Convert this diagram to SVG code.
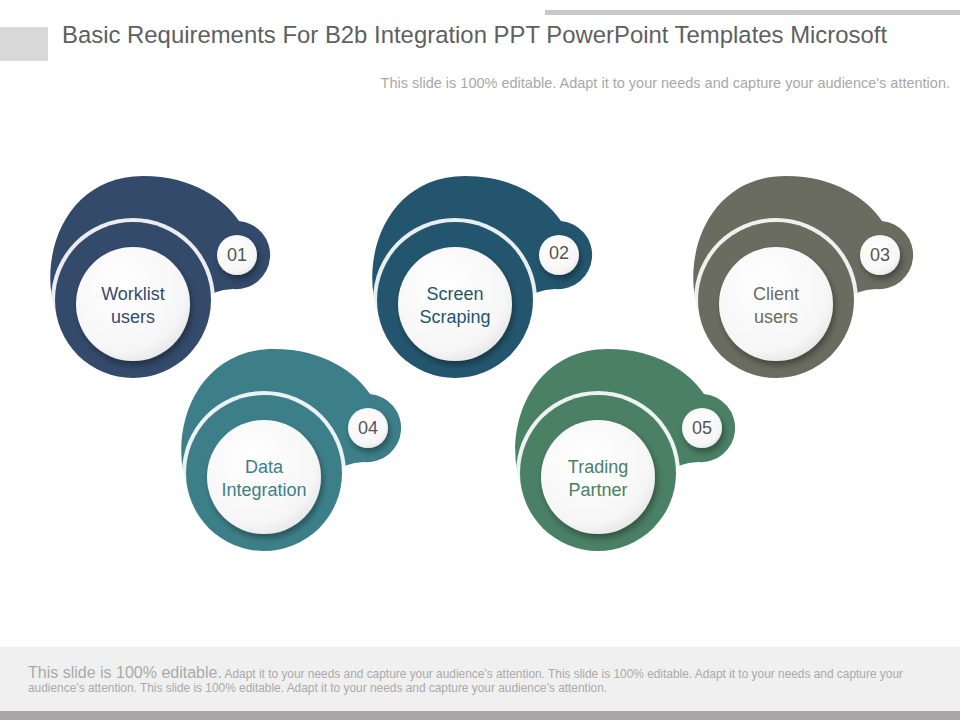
<svg xmlns="http://www.w3.org/2000/svg" width="960" height="720" viewBox="0 0 960 720">
<defs>
<filter id="sh" x="-30%" y="-30%" width="160%" height="160%"><feDropShadow dx="2" dy="4" stdDeviation="3" flood-color="#000" flood-opacity="0.35"/></filter>
<radialGradient id="wg" cx="0.4" cy="0.35" r="0.7"><stop offset="0" stop-color="#ffffff"/><stop offset="0.8" stop-color="#f6f6f6"/><stop offset="1" stop-color="#e6e6e6"/></radialGradient>
<g id="shape">
<path d="M-60,45 C-106,-10 -82,-124 10,-124 C60,-124 92,-100 106,-79 A34 34 0 1 1 100,-11 Q80,-10 70,0 Z"/>
<circle r="82" fill="#fff" opacity="0.9"/>
<circle r="78"/>
<circle cy="4" r="57" fill="url(#wg)" filter="url(#sh)"/>
<circle cx="104" cy="-45" r="20" fill="url(#wg)" filter="url(#sh)"/>
</g>
</defs>
<style>
.t{font-family:"Liberation Sans",Arial,sans-serif;text-anchor:middle;font-size:18px}
.n{font-family:"Liberation Sans",Arial,sans-serif;text-anchor:middle;font-size:18px;fill:#555}
</style>
<rect width="960" height="720" fill="#fff"/>
<rect x="0" y="27" width="48" height="34" fill="#d9d9d9"/>
<rect x="545" y="10" width="415" height="5" fill="#c8c8c8"/>
<text x="62" y="43" font-family="Liberation Sans,Arial,sans-serif" font-size="23.9" fill="#5f5f5f">Basic Requirements For B2b Integration PPT PowerPoint Templates Microsoft</text>
<text x="950" y="88" text-anchor="end" font-family="Liberation Sans,Arial,sans-serif" font-size="14.5" fill="#a8a8a8">This slide is 100% editable. Adapt it to your needs and capture your audience's attention.</text>

<g id="node1" transform="translate(133,300)" fill="#344a6b"><use href="#shape"/><text class="t" y="0">Worklist</text><text class="t" y="23">users</text><text class="n" x="104" y="-39">01</text></g>
<g id="node2" transform="translate(455,300)" fill="#23566e"><use href="#shape"/><text class="t" y="0">Screen</text><text class="t" y="23">Scraping</text><text class="n" x="104" y="-41">02</text></g>
<g id="node3" transform="translate(776,300)" fill="#696c5f"><use href="#shape"/><text class="t" y="0">Client</text><text class="t" y="23">users</text><text class="n" x="104" y="-39">03</text></g>
<g id="node4" transform="translate(264,473)" fill="#3d7f89"><use href="#shape"/><text class="t" y="0">Data</text><text class="t" y="23">Integration</text><text class="n" x="104" y="-39">04</text></g>
<g id="node5" transform="translate(598,473)" fill="#4a8063"><use href="#shape"/><text class="t" y="0">Trading</text><text class="t" y="23">Partner</text><text class="n" x="104" y="-39">05</text></g>
<g id="connectors"/>

<rect x="0" y="647" width="960" height="64" fill="#f0f0f0"/>
<rect x="0" y="711" width="960" height="9" fill="#aaa6a6"/>
<text x="28" y="678" font-family="Liberation Sans,Arial,sans-serif" font-size="11.9" fill="#aaa"><tspan font-size="16">This slide is 100% editable.</tspan> Adapt it to your needs and capture your audience’s attention. This slide is 100% editable. Adapt it to your needs and capture your</text>
<text x="28" y="692" font-family="Liberation Sans,Arial,sans-serif" font-size="11.9" fill="#aaa">audience’s attention. This slide is 100% editable. Adapt it to your needs and capture your audience’s attention.</text>
</svg>
